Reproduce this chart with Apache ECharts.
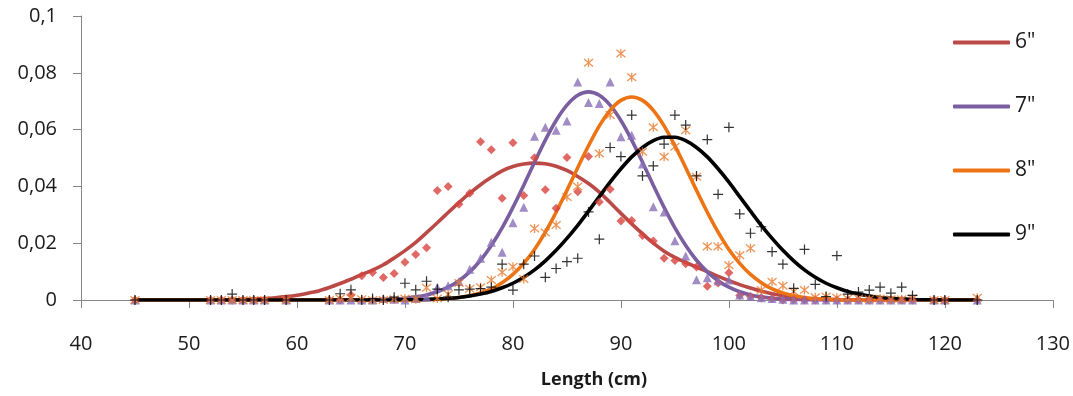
<!DOCTYPE html>
<html>
<head>
<meta charset="utf-8">
<script src="https://cdn.jsdelivr.net/npm/echarts@6/dist/echarts.min.js"></script>
<style>html,body{margin:0;padding:0;background:#fff}#c{width:1073px;height:396px}</style>
</head>
<body>
<div id="c"></div>
<script>
// Fitted curves (x = 45..123)
const curveX = [45,46,47,48,49,50,51,52,53,54,55,56,57,58,59,60,61,62,63,64,65,66,67,68,69,70,71,72,73,74,75,76,77,78,79,80,81,82,83,84,85,86,87,88,89,90,91,92,93,94,95,96,97,98,99,100,101,102,103,104,105,106,107,108,109,110,111,112,113,114,115,116,117,118,119,120,121,122,123];
const curve6 = [0,0,0,0,0,0,0,0.0001,0.0001,0.0001,0.0002,
  0.0003,0.0005,0.0008,0.0012,0.0017,0.0024,0.0032,0.0044,0.0058,0.0073,0.0090,0.0105,0.0124,0.0148,0.0174,0.0203,0.0237,0.0272,0.0308,0.0343,0.0376,0.0406,0.0432,0.0455,0.0470,0.0479,0.0482,0.0480,0.0471,0.0456,0.0435,0.0410,0.0380,0.0343,0.0305,0.0268,0.0233,0.0200,0.0172,0.0150,0.0132,0.0116,0.0100,0.0083,0.0068,0.0054,0.0042,0.0031,0.0022,0.0015,0.0010,0.0006,0.0004,0.0002,0.0001,
  0,0,0,0,0,0,0,0,0,0,0,0,0];
const curve7 = [0,0,0,0,0,0,0,0,0,0,0,0,0,0,0,0,0,0,0,0,0,0,
  0.0001,0.0002,0.0003,0.0006,0.0011,0.0018,0.0029,0.0045,0.0068,0.0099,0.0140,0.0192,0.0254,0.0326,0.0404,0.0485,0.0563,0.0632,0.0686,0.0721,0.0733,0.0721,0.0686,0.0632,0.0563,0.0485,0.0404,0.0326,0.0254,0.0192,0.0140,0.0099,0.0068,0.0045,0.0029,0.0018,0.0011,0.0006,0.0003,0.0002,0.0001,
  0,0,0,0,0,0,0,0,0,0,0,0,0,0,0,0];
const curve8 = [0,0,0,0,0,0,0,0,0,0,0,0,0,0,0,0,0,0,0,0,0,0,0,0,0,0,0,
  0.0001,0.0003,0.0005,0.0009,0.0015,0.0025,0.0039,0.0061,0.0090,0.0129,0.0178,0.0239,0.0309,0.0386,0.0466,0.0543,0.0613,0.0668,0.0703,0.0715,0.0703,0.0668,0.0613,0.0543,0.0466,0.0386,0.0309,0.0239,0.0178,0.0129,0.0090,0.0061,0.0039,0.0025,0.0015,0.0009,0.0005,0.0003,0.0001,
  0,0,0,0,0,0,0,0,0,0,0,0,0];
const curve9 = [0,0,0,0,0,0,0,0,0,0,0,0,0,0,0,0,0,0,0,0,0,0,0,0,0,
  0.0001,0.0001,0.0002,0.0004,0.0006,0.0009,0.0014,0.0021,0.0030,0.0043,0.0059,0.0080,0.0106,0.0138,0.0175,0.0217,0.0263,0.0313,0.0364,0.0415,0.0462,0.0504,0.0537,0.0561,0.0573,
  0.0573,0.0561,0.0537,0.0504,0.0462,0.0415,0.0364,0.0313,0.0263,0.0217,0.0175,0.0138,0.0106,0.0080,0.0059,0.0043,0.0030,0.0021,0.0014,0.0009,0.0006,0.0004,0.0002,0.0001,0.0001,
  0,0,0,0];

// Observed frequencies
const obsX = [45,52,53,54,55,56,57,59,63,64,65,66,67,68,69,70,71,72,73,74,75,76,77,78,79,80,81,82,83,84,85,86,87,88,89,90,91,92,93,94,95,96,97,98,99,100,101,102,103,104,105,106,107,108,109,110,111,112,113,114,115,116,117,119,120,123];
const obs6 = [0,0,0,0,0,0,0,0,
  0,0,0.0018,0.0085,0.0097,0.0079,0.0093,0.0133,0.0160,0.0184,0.0386,0.0400,0.0337,0.0376,0.0557,0.0529,0.0358,0.0554,0.0368,0.0501,0.0388,0.0323,0.0502,0.0381,0.0505,0.0345,0.0390,0.0278,0.0280,0.0227,0.0208,0.0147,0.0139,0.0128,0.0116,0.0048,0.0060,0.0096,0.0016,0.0012,0.0008,0.0005,0,0,0,0,0,0,0,0,0,0,0,0,0,
  0,0,0];
const obs7 = [0,0,0,0,0,0,0,0,
  0,0,0,0,0,0.0005,0.0003,0,0.0005,0.0010,0.0045,0.0050,0.0065,0.0108,0.0147,0.0203,0.0168,0.0272,0.0327,0.0577,0.0608,0.0598,0.0630,0.0768,0.0695,0.0692,0.0768,0.0575,0.0580,0.0479,0.0328,0.0310,0.0209,0.0155,0.0071,0.0078,0.0068,0.0070,0.0018,0.0012,0.0008,0.0005,0.0003,0,0,0,0,0,0,0,0,0,0,0,0,
  0,0,0];
const obs8 = [0,0,0,0,0,0,0,0,
  0,0.0005,0.0008,0.0003,0,0,0.0003,0.0005,0.0003,0.0043,0.0005,0.0020,0.0060,0.0040,0.0045,0.0070,0.0098,0.0117,0.0074,0.0252,0.0238,0.0264,0.0363,0.0400,0.0835,0.0516,0.0651,0.0868,0.0784,0.0522,0.0608,0.0504,0.0540,0.0598,0.0434,0.0188,0.0188,0.0122,0.0158,0.0182,0.0035,0.0064,0.0050,0.0030,0.0035,0.0010,0.0012,0.0008,0.0005,0.0005,0.0003,0.0005,0.0003,0.0003,0.0005,
  0,0,0.0008];
const obs9 = [0,0,0,0.0021,0,0,0,0,
  0,0.0022,0.0036,0,0.0005,0,0.0010,0.0059,0.0036,0.0066,0.0038,0.0010,0.0036,0.0038,0.0040,0.0045,0.0126,0.0035,0.0126,0.0155,0.0080,0.0111,0.0135,0.0147,0.0310,0.0214,0.0537,0.0505,0.0651,0.0437,0.0472,0.0549,0.0651,0.0616,0.0437,0.0565,0.0372,0.0608,0.0303,0.0235,0.0258,0.0170,0.0126,0.0041,0.0178,0.0055,0.0012,0.0156,0.0021,0.0028,0.0035,0.0045,0.0024,0.0045,0.0016,
  0,0,0];

const seriesNames = ['6"', '7"', '8"', '9"'];
const xTicks = [40,50,60,70,80,90,100,110,120,130];

const pair = (xs, ys) => xs.map((x, i) => [x, ys[i]]);
const FONT = 'Open Sans';

const lineColors = ['#bb4a47', '#7b5e9f', '#ec7414', '#000000'];
const curves = [curve6, curve7, curve8, curve9];
const asterisk = 'path://M0,0L10,10M10,0L0,10M5,-1L5,11';
const plus = 'path://M5,0L5,10M0,5L10,5';

const series = [];
curves.forEach((c, i) => {
  series.push({
    name: seriesNames[i], type: 'line', data: pair(curveX, c),
    symbol: 'none', smooth: 0.3, z: 2,
    lineStyle: { color: lineColors[i], width: 3.6, cap: 'round' },
    itemStyle: { color: lineColors[i] }
  });
});
series.push({ name: 'o6', type: 'scatter', data: pair(obsX, obs6), symbol: 'diamond', symbolSize: 9, z: 3,
  itemStyle: { color: '#d8433f' } });
series.push({ name: 'o7', type: 'scatter', data: pair(obsX, obs7), symbol: 'triangle', symbolSize: 9, z: 3,
  itemStyle: { color: '#8a6fb6' } });
series.push({ name: 'o8', type: 'scatter', data: pair(obsX, obs8), symbol: asterisk, symbolSize: 9, z: 3,
  itemStyle: { color: 'none', borderColor: '#e8782a', borderWidth: 1.3 } });
series.push({ name: 'o9', type: 'scatter', data: pair(obsX, obs9), symbol: plus, symbolSize: 10, z: 3,
  itemStyle: { color: 'none', borderColor: '#000', borderWidth: 1.2 } });

const chart = echarts.init(document.getElementById('c'), null, { renderer: 'canvas' });
chart.setOption({
  animation: false,
  backgroundColor: '#fff',
  grid: { left: 81, right: 20, top: 16, bottom: 96, containLabel: false },
  xAxis: {
    type: 'value', min: xTicks[0], max: xTicks[xTicks.length - 1], interval: 10,
    axisLine: { lineStyle: { color: '#868686', width: 1 } },
    axisTick: { show: true, length: 8, inside: false, lineStyle: { color: '#868686' } },
    axisLabel: { margin: 34, fontFamily: FONT, fontSize: 20, color: '#1a1a1a' },
    splitLine: { show: false }
  },
  yAxis: {
    type: 'value', min: 0, max: 0.1, interval: 0.02,
    axisLine: { show: true, lineStyle: { color: '#868686', width: 1 } },
    axisTick: { show: true, length: 8, inside: false, lineStyle: { color: '#868686' } },
    axisLabel: { margin: 24, fontFamily: FONT, fontSize: 20, color: '#1a1a1a',
      formatter: v => String(+(+v).toFixed(4)).replace('.', ',') },
    splitLine: { show: false }
  },
  legend: {
    data: seriesNames.map(n => ({ name: n, icon: 'roundRect' })),
    orient: 'vertical', left: 948, top: 27,
    itemWidth: 57, itemHeight: 4, itemGap: 43,
    textStyle: { fontFamily: FONT, fontSize: 21, lineHeight: 20, color: '#1a1a1a' }
  },
  graphic: [{
    type: 'text', x: 594, y: 380,
    style: { text: 'Length (cm)', font: 'bold 18px "Open Sans"', fill: '#1a1a1a', textAlign: 'center', textVerticalAlign: 'middle' }
  }],
  series: series
});
</script>
</body>
</html>
